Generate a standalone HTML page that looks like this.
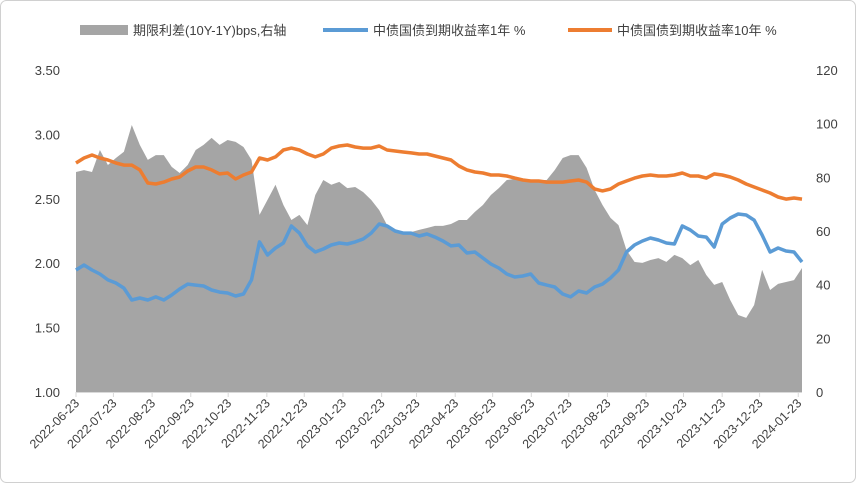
<!DOCTYPE html>
<html><head><meta charset="utf-8"><style>
body{margin:0;background:#fff;}
svg{display:block;font-family:"Liberation Sans","Noto Sans CJK SC",sans-serif;}
</style></head><body>
<svg id="chart" width="856" height="483" viewBox="0 0 856 483">
<rect x="0.5" y="0.5" width="855" height="482" rx="6" fill="#fff" stroke="#d0d0d0"/>
<g id="legend">
 <g>
  <rect x="80" y="25" width="48" height="10" fill="#a5a5a5"/>
  <text x="133" y="35" font-size="13" fill="#404040">期限利差(10Y-1Y)bps,右轴</text>
 </g>
 <g>
  <line x1="323" y1="30" x2="368" y2="30" stroke="#5b9bd5" stroke-width="4"/>
  <text x="373" y="35" font-size="13" fill="#404040">中债国债到期收益率1年 %</text>
 </g>
 <g>
  <line x1="568" y1="30" x2="612" y2="30" stroke="#ed7d31" stroke-width="4"/>
  <text x="617" y="35" font-size="13" fill="#404040">中债国债到期收益率10年 %</text>
 </g>
</g>
<g id="plot"></g>
</svg>
<script>
const spread=[82.0,82.7,82.0,90.2,84.6,87.2,89.5,99.5,92.1,86.5,88.3,88.3,83.9,81.6,84.6,90.2,92.1,94.7,92.1,93.9,93.2,91.3,86.5,66.0,71.6,77.2,69.7,64.1,66.0,62.2,73.4,79.0,77.2,78.3,76.0,76.4,74.5,71.6,67.8,62.2,59.6,58.9,59.6,60.4,61.1,61.9,61.9,62.6,64.1,64.1,67.1,69.7,73.4,76.0,79.0,79.4,78.6,79.0,79.0,79.0,82.7,87.2,88.3,88.3,83.5,75.3,69.7,64.9,62.2,52.9,48.5,48.1,49.2,49.9,48.5,51.1,49.9,47.3,49.2,43.6,39.9,41.0,34.3,28.7,27.6,32.4,45.5,38.0,40.3,41.0,41.7,46.2];
const y1=[1.947,1.986,1.947,1.916,1.870,1.846,1.807,1.714,1.730,1.714,1.738,1.714,1.753,1.800,1.838,1.830,1.823,1.792,1.776,1.769,1.745,1.761,1.870,2.165,2.064,2.118,2.157,2.289,2.234,2.134,2.087,2.110,2.141,2.157,2.149,2.165,2.188,2.234,2.304,2.289,2.250,2.234,2.234,2.211,2.227,2.203,2.172,2.134,2.141,2.079,2.087,2.040,1.994,1.963,1.916,1.893,1.901,1.916,1.846,1.830,1.815,1.761,1.738,1.784,1.769,1.815,1.838,1.885,1.947,2.087,2.141,2.172,2.196,2.180,2.157,2.149,2.289,2.258,2.211,2.203,2.126,2.304,2.351,2.382,2.374,2.335,2.219,2.087,2.118,2.095,2.087,2.009];
const y10=[2.778,2.817,2.840,2.817,2.801,2.778,2.762,2.762,2.724,2.623,2.615,2.630,2.654,2.669,2.716,2.747,2.747,2.724,2.693,2.700,2.654,2.685,2.708,2.817,2.801,2.825,2.879,2.894,2.879,2.848,2.825,2.848,2.894,2.910,2.918,2.902,2.894,2.894,2.910,2.879,2.871,2.863,2.856,2.848,2.848,2.832,2.817,2.801,2.755,2.724,2.708,2.700,2.685,2.685,2.677,2.661,2.646,2.638,2.638,2.630,2.630,2.630,2.638,2.646,2.630,2.576,2.561,2.576,2.615,2.638,2.661,2.677,2.685,2.677,2.677,2.685,2.700,2.677,2.677,2.661,2.693,2.685,2.669,2.646,2.615,2.592,2.568,2.545,2.514,2.498,2.506,2.498];
const leftTicks=["1.00","1.50","2.00","2.50","3.00","3.50"];
const rightTicks=["0","20","40","60","80","100","120"];
const dateTicks=["2022-06-23","2022-07-23","2022-08-23","2022-09-23","2022-10-23","2022-11-23","2022-12-23","2023-01-23","2023-02-23","2023-03-23","2023-04-23","2023-05-23","2023-06-23","2023-07-23","2023-08-23","2023-09-23","2023-10-23","2023-11-23","2023-12-23","2024-01-23"];

const X0=76,X1=802,YB=392,YT=70;
const n=y1.length;
const xi=i=>X0+i*(X1-X0)/(n-1);
const yL=v=>YB-(v-1)/2.5*(YB-YT);
const yR=v=>YB-v/120*(YB-YT);
const t0=Date.parse("2022-06-23"),t1=Date.parse("2024-01-26");
const xd=s=>X0+(Date.parse(s)-t0)/(t1-t0)*(X1-X0);
const NS="http://www.w3.org/2000/svg";
const plot=document.getElementById('plot');
function mk(tag,attrs){const e=document.createElementNS(NS,tag);for(const k in attrs)e.setAttribute(k,attrs[k]);plot.appendChild(e);return e;}

// area
let d="M"+xi(0)+","+YB;
spread.forEach((v,i)=>{d+=" L"+xi(i).toFixed(1)+","+yR(v).toFixed(1);});
d+=" L"+xi(n-1)+","+YB+" Z";
const area=mk('path',{d:d,fill:'#a5a5a5'});



function line(arr,col,name){
 const p=arr.map((v,i)=>(i?"L":"M")+xi(i).toFixed(1)+","+yL(v).toFixed(1)).join(" ");
 const e=mk('path',{d:p,fill:'none',stroke:col,'stroke-width':3.5,'stroke-linejoin':'round'});
 
 
}
line(y10,'#ed7d31','line-10y');
line(y1,'#5b9bd5','line-1y');

const ax=mk('line',{x1:X0,y1:YB+0.5,x2:X1,y2:YB+0.5,stroke:'#d9d9d9','stroke-width':1});



leftTicks.forEach(t=>{
 const e=mk('text',{x:60,y:yL(parseFloat(t))+5,'text-anchor':'end','font-size':13,fill:'#404040'});
 e.textContent=t;
 
 
});
rightTicks.forEach(t=>{
 const e=mk('text',{x:816,y:yR(parseFloat(t))+5,'text-anchor':'start','font-size':13,fill:'#404040'});
 e.textContent=t;
 
 
});
dateTicks.forEach(t=>{
 const x=xd(t);
 const tk=mk('line',{x1:x,y1:YB,x2:x,y2:YB+5,stroke:'#d9d9d9'});
 
 
 const e=mk('text',{x:x+4,y:YB+12,'text-anchor':'end','font-size':12.5,fill:'#404040',transform:`rotate(-45 ${x+4} ${YB+12})`});
 e.textContent=t;
 
 
});
</script>
</body></html>
